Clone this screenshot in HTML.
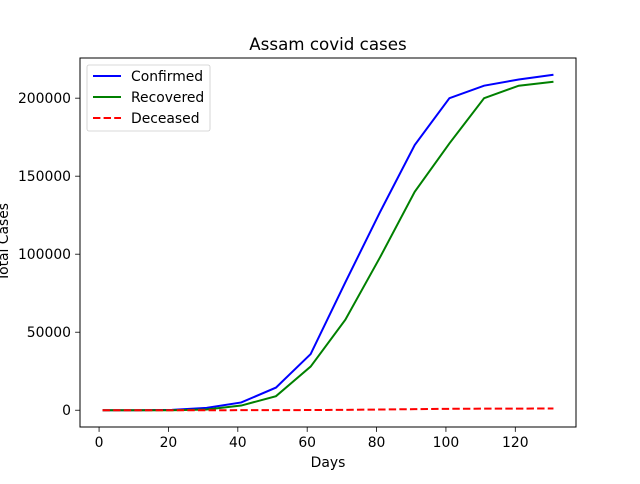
<!DOCTYPE html>
<html><head><meta charset="utf-8"><style>
body{margin:0;background:#fff;font-family:"DejaVu Sans","Liberation Sans",sans-serif}
svg text{font-family:"DejaVu Sans","Liberation Sans",sans-serif}
</style></head><body>
<svg id="c" width="640" height="480" xmlns="http://www.w3.org/2000/svg">
<rect width="640" height="480" fill="#fff"/>
<g id="plot"></g>
</svg>
<script>
const days=[1,11,21,31,41,51,61,71,81,91,101,111,121,131];
const confirmed=[0,0,200,1500,5000,14500,36000,82000,127000,170000,200000,208000,212000,215000];
const recovered=[0,0,0,500,3000,9000,28000,58000,98000,140000,171000,200000,208000,210500];
const deceased=[0,0,0,10,30,60,120,250,450,700,900,1000,1050,1100];
const xTicks=[0,20,40,60,80,100,120];
const yTicks=[0,50000,100000,150000,200000];
const L=80,R=576,T=58,B=427;
const xmin=-5.5,xmax=137.5,ymin=-10750,ymax=225750;
const sx=v=>L+(v-xmin)/(xmax-xmin)*(R-L);
const sy=v=>B-(v-ymin)/(ymax-ymin)*(B-T);
const NS="http://www.w3.org/2000/svg";
const g=document.getElementById('plot');
function mk(t,a,p){const e=document.createElementNS(NS,t);for(const k in a)e.setAttribute(k,a[k]);(p||g).appendChild(e);return e;}
xTicks.forEach(v=>{
 const l=mk('line',{x1:sx(v),x2:sx(v),y1:B,y2:B+4.9,stroke:'#000','stroke-width':0.8});
 
 
 const t=mk('text',{x:sx(v),y:B+20,'font-size':13.9,'text-anchor':'middle'});t.textContent=v;
 
 
});
yTicks.forEach(v=>{
 const l=mk('line',{x1:L-4.9,x2:L,y1:sy(v),y2:sy(v),stroke:'#000','stroke-width':0.8});
 
 
 const t=mk('text',{x:L-9,y:sy(v)+5,'font-size':13.9,'text-anchor':'end'});t.textContent=v;
 
 
});
function line(arr,color,dash,name){
 const p=mk('polyline',{points:days.map((d,i)=>sx(d)+','+sy(arr[i])).join(' '),fill:'none',stroke:color,'stroke-width':2});
 if(dash)p.setAttribute('stroke-dasharray',dash);
 
 
}
line(confirmed,'#0000ff',null,'confirmed-line');
line(recovered,'#008000',null,'recovered-line');
line(deceased,'#ff0000','7.4,3.2','deceased-line');
const fr=mk('rect',{x:L,y:T,width:R-L,height:B-T,fill:'none',stroke:'#000','stroke-width':1});


</script>
<svg width="640" height="480" style="position:absolute;left:0;top:0" xmlns="http://www.w3.org/2000/svg">
<text x="328" y="50" font-size="16.7" text-anchor="middle">Assam covid cases</text>
<text x="328" y="467" font-size="13.9" text-anchor="middle">Days</text>
<text x="0" y="0" font-size="13.9" text-anchor="middle" transform="translate(8,242) rotate(-90)">Total Cases</text>
<g>
<rect x="87" y="65" width="123" height="66" rx="2" fill="#fff" fill-opacity="0.8" stroke="#ccc" stroke-width="0.8"/>
<g><line x1="93" x2="121" y1="76" y2="76" stroke="#0000ff" stroke-width="2"/><text x="131" y="81" font-size="13.9">Confirmed</text></g>
<g><line x1="93" x2="121" y1="97" y2="97" stroke="#008000" stroke-width="2"/><text x="131" y="102" font-size="13.9">Recovered</text></g>
<g><line x1="93" x2="121" y1="118" y2="118" stroke="#ff0000" stroke-width="2" stroke-dasharray="7.4,3.2"/><text x="131" y="123" font-size="13.9">Deceased</text></g>
</g>
</svg>
</body></html>
